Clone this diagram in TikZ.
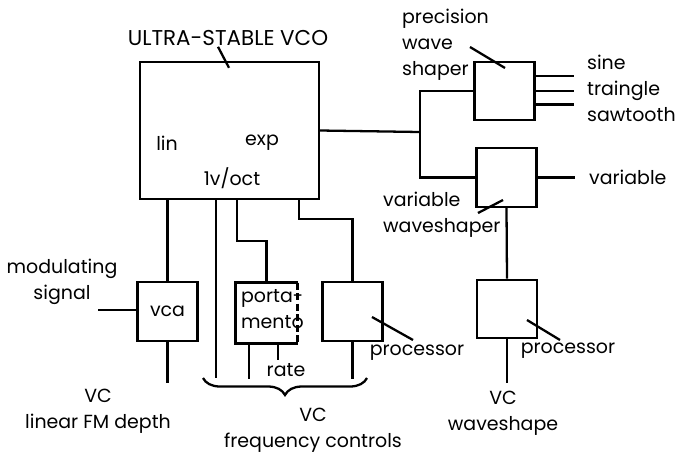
\documentclass[tikz,border=0pt]{standalone}
\usepackage{fontspec}
\setmainfont{Poppins}
\usetikzlibrary{calc,decorations.pathreplacing}
\tikzset{
  blk/.style={draw, minimum width=1.2cm, minimum height=1.17cm, inner sep=0pt},
  lbl/.style={inner sep=0pt, font=\fontsize{10.8}{14.8}\selectfont},
}

\begin{document}
\begin{tikzpicture}[x=0.02cm, y=-0.02cm, line width=1.3pt]
      \useasboundingbox (0,0) rectangle (676,454);

      % Oscillator
      \node[blk, minimum width=3.58cm, minimum height=2.74cm] (vco) at (229.5,130.5) {};
      \node[lbl, font=\fontsize{12.2}{14.8}\selectfont] (vcot) at (228,38) {ULTRA-STABLE VCO};
      \draw ([xshift=-0.2cm]vcot.south) -- ++(11,21);
      \node[lbl] (lin) at (167,143) {lin};
      \node[lbl] (exp) at (262,143) {exp};
      \node[lbl] (oct) at (232,178) {1v/oct};

      % Wave shapers
      \node[blk] (pws) at (504.5,91) {};
      \node[lbl, anchor=west, align=left] (pwsl) at (401,45) {precision\\wave\\shaper};
      \draw (470,47) -- (505,68);
      \node[blk] (vws) at (506.5,177.5) {};
      \node[lbl, anchor=west, align=left] (vwsl) at (382,214.5) {variable\\waveshaper};
      \draw (478,213) -- (503,200);
      \node[blk] (proc2) at (507,309) {};
      \node[lbl] (proc2l) at (568,351) {processor};
      \draw (527,320) -- (560,340);

      % Outputs
      \coordinate (jn) at (420,132);
      \draw (vco.east) -- (jn);
      \draw (pws.west) -| (jn) |- (vws.west);
      \draw ([yshift=0.3cm]pws.east) -- ++(38,0);
      \draw (pws.east) -- ++(38,0);
      \draw ([yshift=-0.27cm]pws.east) -- ++(38,0);
      \node[lbl, anchor=west, align=left] (outs) at (586,88) {sine\\traingle\\sawtooth};
      \draw (vws.east) -- ++(37,0);
      \node[lbl, anchor=west] (var) at (588,177) {variable};
      \draw (vws.south) -- (proc2.north);
      \draw (proc2.south) -- ++(0,44);
      \node[lbl, align=center] (vcw) at (503,413.5) {VC\\waveshape};

      % Linear FM
      \node[blk] (vca) at (167.5,311.5) {};
      \node[lbl] at (vca) {vca};
      \draw (vca.north) -- (vca.north |- vco.south);
      \coordinate (min) at (98,310);
      \draw (min) -- (min -| vca.west);
      \node[lbl, align=center] (modl) at (62,281.5) {modulating\\signal};
      \draw (vca.south) -- ++(0,41);
      \node[lbl, align=center] (vcl) at (98,411) {VC\\linear FM depth};

      % Frequency controls
      \coordinate (fl) at (216,378);
      \draw (fl |- vco.south) -- (fl);
      \node[blk, draw=none] (port) at (266.5,313) {};
      \draw (port.north east) -- (port.north west) -- (port.south west) -- (port.south east);
      \draw[dash pattern=on 4pt off 2pt] (port.north east) -- (port.south east);
      \node[lbl, anchor=north west, align=left] (portl) at (240,288) {porta-\\mento};
      \coordinate (pj) at (237,241);
      \draw (pj |- vco.south) |- (pj -| port.north) -- (port.north);
      \draw ([xshift=-0.35cm]port.south) -- ++(0,36);
      \draw ([xshift=0.23cm]port.south) -- ++(0,17);
      \node[lbl] (rate) at (286,370) {rate};
      \node[blk] (proc1) at (352.5,311.5) {};
      \node[lbl] (proc1l) at (417,353) {processor};
      \draw (372,317) -- (413,340);
      \coordinate (qj) at (299,219);
      \draw (qj |- vco.south) |- (qj -| proc1.north) -- (proc1.north);
      \draw (proc1.south) -- ++(0,37);
      \draw[decorate, decoration={brace, amplitude=0.34cm}] (367,378) -- (203,378);
      \node[lbl, align=center] (vcf) at (313,430) {VC\\frequency controls};
  \end{tikzpicture}
\end{document}
